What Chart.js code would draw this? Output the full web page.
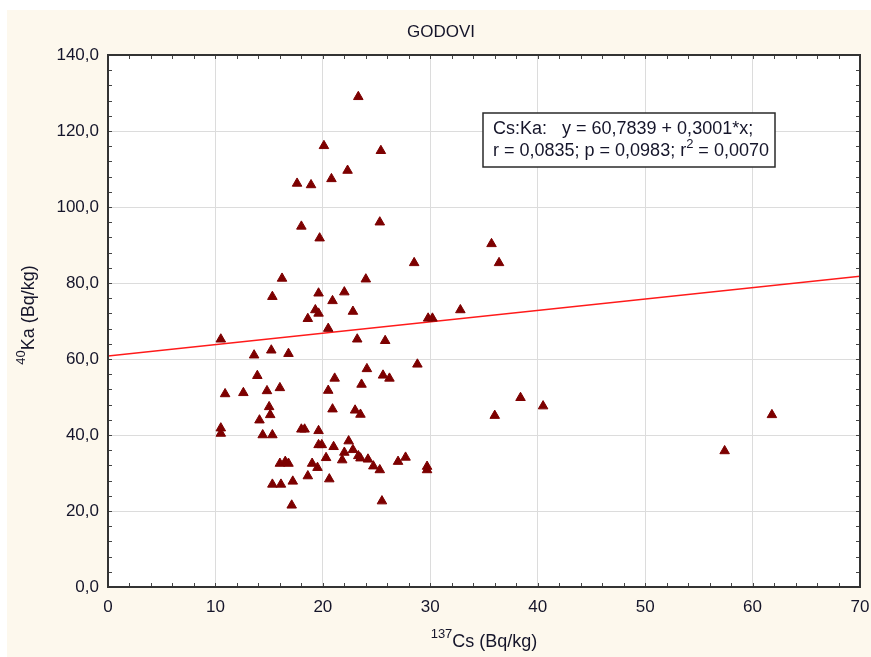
<!DOCTYPE html>
<html>
<head>
<meta charset="utf-8">
<script src="https://cdn.jsdelivr.net/npm/chart.js@4.4.1/dist/chart.umd.min.js"></script>
<style>
    html, body { margin: 0; padding: 0; background: #ffffff; }
    canvas { display: block; }
</style>
</head>
<body>
<canvas id="godoviChart" width="871" height="657"></canvas>
<script>
// 137Cs vs 40K activity per sample (Bq/kg)
const csValues = [
    23.3, 20.1, 25.4, 22.3, 20.8, 17.6, 18.9, 25.3, 18.0, 19.7,
    35.7, 36.4, 28.5, 16.2, 24.0, 15.3, 19.6, 22.0, 20.9, 19.3,
    19.6, 22.8, 18.6, 20.5, 29.8, 30.2, 32.8, 10.5, 23.2, 25.8,
    13.6, 15.2, 16.8, 28.8, 24.1, 25.6, 26.2, 13.9, 21.1, 23.6,
    10.9, 12.6, 14.8, 16.0, 20.5, 15.0, 15.1, 14.1, 20.9, 23.0,
    23.5, 10.5, 10.5, 38.4, 40.5, 36.0, 14.4, 15.3, 18.0, 18.3,
    19.6, 19.6, 19.9, 21.0, 22.4, 22.0, 22.8, 20.3, 21.8, 23.3,
    23.5, 24.2, 24.7, 25.3, 27.0, 27.7, 29.7, 29.7, 16.0, 16.5,
    16.8, 19.0, 19.5, 18.6, 20.6, 15.3, 16.1, 17.2, 17.1, 25.5,
    61.8, 57.4
];
const kaValues = [
    129.0, 116.1, 114.8, 109.6, 107.4, 106.2, 105.8, 96.0, 94.9, 91.8,
    90.3, 85.3, 85.3, 81.2, 81.0, 76.4, 77.3, 77.6, 75.3, 72.9,
    72.0, 72.5, 70.6, 68.0, 70.7, 70.7, 72.9, 65.2, 65.2, 64.8,
    61.0, 62.3, 61.4, 58.6, 57.4, 55.7, 54.9, 55.6, 54.9, 53.3,
    50.8, 51.1, 51.6, 52.4, 51.7, 47.4, 45.3, 43.9, 46.8, 46.5,
    45.4, 41.8, 40.4, 49.8, 47.6, 45.1, 40.0, 40.0, 41.5, 41.5,
    41.1, 37.4, 37.4, 36.9, 38.4, 35.4, 36.1, 34.0, 33.4, 34.5,
    33.9, 33.6, 31.8, 30.8, 33.0, 34.1, 31.7, 30.8, 32.5, 33.0,
    32.5, 32.5, 31.4, 29.2, 28.4, 27.0, 27.0, 27.8, 21.5, 22.6,
    45.3, 35.8
];

const xRange = [0, 70];
const yRange = [0, 140];
const xStep = 10;
const yStep = 20;

// regression Cs:Ka
const fitIntercept = 60.7839;
const fitSlope = 0.3001;
const fitR = 0.0835;
const fitP = 0.0983;
const fitR2 = 0.0070;

const chartTitle = "GODOVI";
const TEXT = "#15152a";
const FONT = "Liberation Sans, Arial, sans-serif";

const comma = (v, d) => v.toFixed(d).replace(".", ",");

const scatterData = csValues.map((x, i) => ({ x, y: kaValues[i] }));
const fitData = xRange.map(x => ({ x, y: fitIntercept + fitSlope * x }));

// draw text made of normal and superscript pieces
function richText(ctx, parts, x, y, size, supSize) {
    let total = 0;
    parts.forEach(p => {
        ctx.font = (p.sup ? supSize : size) + "px " + FONT;
        p.w = ctx.measureText(p.text).width;
        total += p.w;
    });
    let cx = x - total / 2;
    parts.forEach(p => {
        ctx.font = (p.sup ? supSize : size) + "px " + FONT;
        ctx.fillText(p.text, cx, p.sup ? y - size * 0.42 : y);
        cx += p.w;
    });
}

const framePlugin = {
    id: "frame",
    beforeDraw(chart) {
        const { ctx, chartArea: a } = chart;
        ctx.save();
        ctx.fillStyle = "#ffffff";
        ctx.fillRect(0, 0, chart.width, chart.height);
        ctx.fillStyle = "#fdf8ed";
        ctx.fillRect(7, 10, chart.width - 7, chart.height - 10);
        ctx.fillStyle = "#ffffff";
        ctx.fillRect(a.left, a.top, a.right - a.left, a.bottom - a.top);
        ctx.restore();
    },
    afterDraw(chart) {
        const { ctx, chartArea: a, scales } = chart;
        ctx.save();

        // minor ticks, pointing inwards on all four sides
        ctx.strokeStyle = "#444";
        ctx.lineWidth = 1;
        ctx.beginPath();
        for (let v = xRange[0]; v <= xRange[1]; v += 2) {
            const px = Math.round(scales.x.getPixelForValue(v)) + 0.5;
            ctx.moveTo(px, a.bottom); ctx.lineTo(px, a.bottom - 4);
            ctx.moveTo(px, a.top); ctx.lineTo(px, a.top + 4);
        }
        for (let v = yRange[0]; v <= yRange[1]; v += 4) {
            const py = Math.round(scales.y.getPixelForValue(v)) + 0.5;
            ctx.moveTo(a.left, py); ctx.lineTo(a.left + 4, py);
            ctx.moveTo(a.right, py); ctx.lineTo(a.right - 4, py);
        }
        ctx.stroke();

        ctx.strokeStyle = "#333";
        ctx.lineWidth = 2;
        ctx.strokeRect(a.left, a.top, a.right - a.left, a.bottom - a.top);

        ctx.fillStyle = TEXT;
        ctx.textBaseline = "middle";
        ctx.font = "17px " + FONT;
        ctx.textAlign = "center";
        ctx.fillText(chartTitle, 441, 32);

        ctx.textAlign = "left";
        richText(ctx, [{ text: "137", sup: true }, { text: "Cs (Bq/kg)" }],
            (a.left + a.right) / 2, 642, 18, 13);

        ctx.save();
        ctx.translate(29, (a.top + a.bottom) / 2 - 6);
        ctx.rotate(-Math.PI / 2);
        richText(ctx, [{ text: "40", sup: true }, { text: "Ka (Bq/kg)" }], 0, 0, 18, 13);
        ctx.restore();

        // regression box
        ctx.fillStyle = "#ffffff";
        ctx.fillRect(483, 113, 292, 54);
        ctx.strokeStyle = "#2a2a2a";
        ctx.lineWidth = 1.5;
        ctx.strokeRect(483, 113, 292, 54);

        ctx.fillStyle = TEXT;
        ctx.font = "18px " + FONT;
        ctx.fillText("Cs:Ka:   y = " + comma(fitIntercept, 4) + " + " + comma(fitSlope, 4) + "*x;", 493, 129);
        let tx = 493;
        const line2a = "r = " + comma(fitR, 4) + "; p = " + comma(fitP, 4) + "; r";
        ctx.fillText(line2a, tx, 151);
        tx += ctx.measureText(line2a).width;
        ctx.font = "13px " + FONT;
        ctx.fillText("2", tx, 144);
        tx += ctx.measureText("2").width;
        ctx.font = "18px " + FONT;
        ctx.fillText(" = " + comma(fitR2, 4), tx, 151);

        ctx.restore();
    }
};

new Chart(document.getElementById("godoviChart"), {
    type: "scatter",
    data: {
        datasets: [{
            label: "Cs:Ka",
            data: scatterData,
            pointStyle: "triangle",
            pointRadius: 5.5,
            pointHoverRadius: 5.5,
            backgroundColor: "#7d0000",
            borderColor: "#7d0000",
            borderWidth: 1,
            order: 0
        }, {
            label: "fit",
            data: fitData,
            showLine: true,
            borderColor: "#ff1a1a",
            borderWidth: 1.5,
            pointRadius: 0,
            order: 1
        }]
    },
    options: {
        responsive: false,
        animation: false,
        layout: { padding: { top: 55, right: 11, bottom: 0, left: 0 } },
        plugins: {
            legend: { display: false },
            tooltip: { enabled: false },
            title: { display: false }
        },
        scales: {
            x: {
                type: "linear",
                min: xRange[0],
                max: xRange[1],
                ticks: {
                    stepSize: xStep,
                    padding: 10,
                    color: TEXT,
                    font: { family: FONT, size: 17 }
                },
                grid: { color: "#dcdcdc", lineWidth: 1, drawTicks: false },
                border: { display: false },
                afterFit(scale) {
                    scale.height = 70;
                    scale.paddingLeft = 0;
                    scale.paddingRight = 0;
                }
            },
            y: {
                type: "linear",
                min: yRange[0],
                max: yRange[1],
                ticks: {
                    stepSize: yStep,
                    padding: 9,
                    color: TEXT,
                    font: { family: FONT, size: 17 },
                    callback: v => comma(v, 1)
                },
                grid: { color: "#dcdcdc", lineWidth: 1, drawTicks: false },
                border: { display: false },
                afterFit(scale) {
                    scale.width = 108;
                    scale.paddingTop = 0;
                    scale.paddingBottom = 0;
                }
            }
        }
    },
    plugins: [framePlugin]
});
</script>
</body>
</html>
